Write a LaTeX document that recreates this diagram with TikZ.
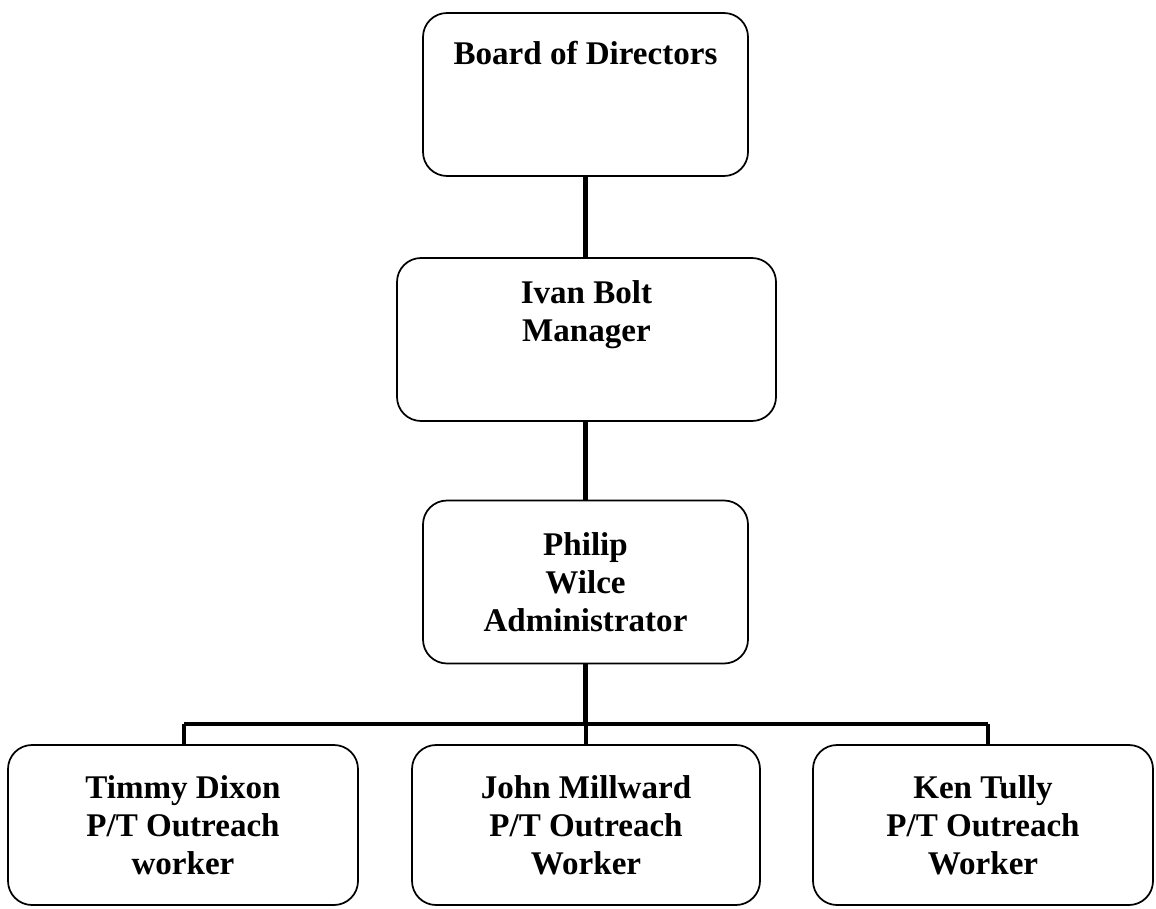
\documentclass[tikz,border=0pt]{standalone}
\usepackage{fontspec}
\setmainfont{Liberation Serif}
\usetikzlibrary{positioning}

\begin{document}
\begin{tikzpicture}[x=0.75pt,y=-0.75pt,
  box/.style={draw,line width=1.3pt,rounded corners=18pt,inner sep=0pt},
  txt/.style={font=\bfseries\fontsize{24.8}{28.5}\selectfont,align=center},
  link/.style={line width=3.4pt}]
\useasboundingbox (0,0) rectangle (1156,909);
% boxes
\node[box,minimum width=243.75pt,minimum height=122.25pt] (board) at (585.5,94.5) {};
\node[txt] (boardtxt) at (585.5,53) {Board of Directors};
\node[box,minimum width=284.25pt,minimum height=122.25pt] (ivan) at (586.5,339.5) {};
\node[txt] (ivantxt) at (586.5,315) {Ivan Bolt\\Manager};
\node[box,minimum width=243.75pt,minimum height=122.25pt,txt] (philip) at (585.5,582) {Philip\\Wilce\\Administrator};
\node[box,minimum width=262.5pt,minimum height=120pt,txt] (timmy) at (183,825) {Timmy Dixon\\P/T Outreach\\worker};
\node[box,minimum width=261pt,minimum height=120pt,txt] (john) at (586,825) {John Millward\\P/T Outreach\\Worker};
\node[box,minimum width=255pt,minimum height=120pt,txt] (ken) at (983,825) {Ken Tully\\P/T Outreach\\Worker};
% connectors
\coordinate (busl) at (184,724);
\coordinate (busr) at (988,724);
\draw[link] (board.south) -- (ivan.north -| board.south);
\draw[link] (ivan.south -| philip.north) -- (philip.north);
\draw[link] (philip.south) -- (philip.south |- busl);
\draw[link] (busl) -- (busr);
\draw[link] (busl) -- (busl |- timmy.north);
\draw[link] (john.north |- busl) -- (john.north);
\draw[link] (busr) -- (busr |- ken.north);
\end{tikzpicture}
\end{document}
